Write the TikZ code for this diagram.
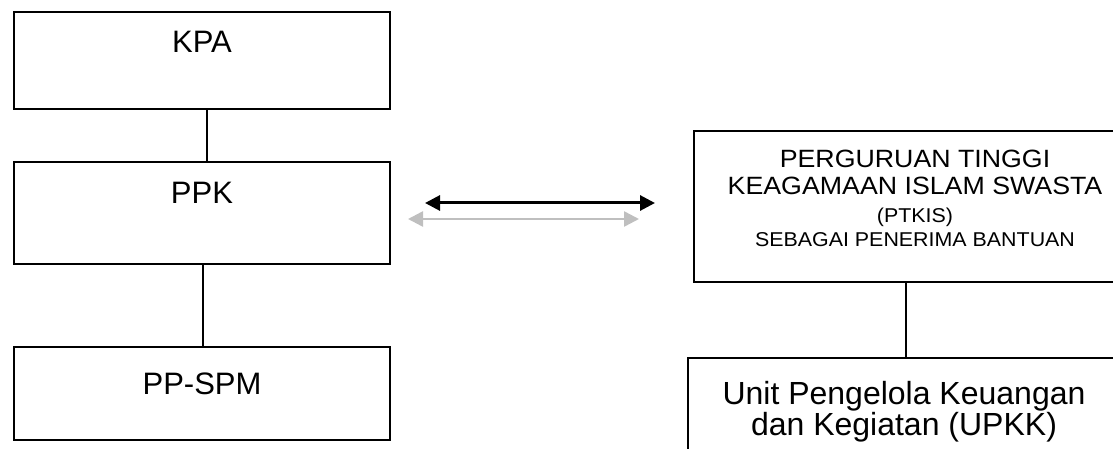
\documentclass[tikz,border=0pt]{standalone}
\usepackage{fontspec}
\setmainfont{Liberation Sans}
\newfontfamily\widefont[FakeStretch=1.07]{Liberation Sans}
\usetikzlibrary{arrows.meta,calc}
\definecolor{lightarrow}{RGB}{191,191,191}
\begin{document}
\begin{tikzpicture}[x=1pt,y=-1pt,
  box/.style={draw, line width=1.4pt, rectangle, inner sep=0pt},
  lbl/.style={inner sep=0pt, anchor=base},
  conn/.style={line width=1.4pt},
  dblarrow/.style={line width=3pt, {Triangle[length=15pt,width=15pt]}-{Triangle[length=15pt,width=15pt]}},
  greyarrow/.style={line width=2.5pt, draw=lightarrow, {Triangle[length=15pt,width=15pt]}-{Triangle[length=15pt,width=15pt]}}]
\useasboundingbox (0,0) rectangle (1113,449);
\begin{scope}
\clip (0,0) rectangle (1113,449);
% left column
\node[box, minimum width=376pt, minimum height=97pt] (kpa) at (202,60.5) {};
\node[box, minimum width=376pt, minimum height=102pt] (ppk) at (202,213) {};
\node[box, minimum width=376pt, minimum height=93pt] (ppspm) at (202,393.5) {};
\node[lbl, font=\fontsize{31}{31}\selectfont] (tkpa) at (202,53) {KPA};
\node[lbl, font=\fontsize{31}{31}\selectfont] (tppk) at (202,203.5) {PPK};
\node[lbl, font=\fontsize{31}{31}\selectfont] (tppspm) at (202,394.5) {PP-SPM};
% right column
\node[box, minimum width=442pt, minimum height=151pt] (ptkis) at (915,206.5) {};
\node[box, minimum width=432pt, minimum height=122pt] (upkk) at (904,419) {};
\node[lbl, align=center, font=\widefont\fontsize{25}{28}\selectfont] (tptkis) at (915,246)
  {PERGURUAN TINGGI\\KEAGAMAAN ISLAM SWASTA\\[-1pt]{\fontsize{20}{24}\selectfont (PTKIS)}\\[-4pt]{\fontsize{20}{24}\selectfont SEBAGAI PENERIMA BANTUAN}};
\node[lbl, align=center, font=\fontsize{32}{28}\selectfont] (tupkk) at (904,435)
  {Unit Pengelola Keuangan\\dan Kegiatan (UPKK)};
% connectors
\draw[conn] ([xshift=5pt]kpa.south) -- ([xshift=5pt]ppk.north);
\draw[conn] ([xshift=1pt]ppk.south) -- ([xshift=1pt]ppspm.north);
\draw[conn] ([xshift=-9pt]ptkis.south) -- ([xshift=2pt]upkk.north);
% arrows
\coordinate (a1) at (425,203);
\coordinate (a2) at (655,203);
\coordinate (b1) at (408,219);
\coordinate (b2) at (639,219);
\draw[dblarrow] (a1) -- (a2);
\draw[greyarrow] (b1) -- (b2);
\end{scope}
\end{tikzpicture}
\end{document}
